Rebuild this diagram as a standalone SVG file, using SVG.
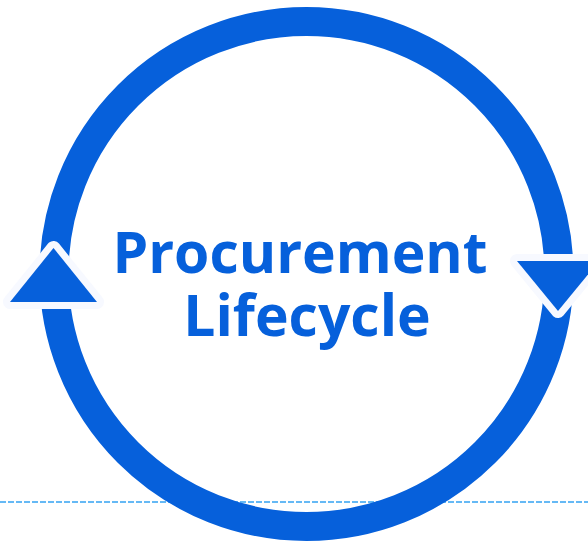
<svg xmlns="http://www.w3.org/2000/svg" width="588" height="542" viewBox="0 0 588 542">
<style>
.ring{fill:none;stroke:#0660DB;stroke-width:29}
.arrow{fill:#0660DB;stroke:#F7F9FF;stroke-width:14;stroke-linejoin:round;paint-order:stroke}
.dash{stroke:#33A3F2;stroke-width:1.5;stroke-dasharray:6 2;fill:none}
.title{font-family:"Open Sans","Liberation Sans",sans-serif;font-weight:700;font-size:57px;fill:#0660DB;text-anchor:middle}
</style>
<rect width="588" height="542" fill="#FFFFFF"/>
<g id="connectors">
<line class="dash" x1="0" y1="502" x2="588" y2="502"/>
<circle class="ring" cx="306.5" cy="274" r="252.5"/>
</g>
<g id="arrow-left">
<polygon class="arrow" points="53.5,248 10,302 97,302"/>
</g>
<g id="arrow-right">
<polygon class="arrow" points="517,261 599,261 558,311"/>
</g>
<g id="label">
<text class="title" x="300" y="273">Procurement</text>
<text class="title" x="307" y="336">Lifecycle</text>
</g>
</svg>
